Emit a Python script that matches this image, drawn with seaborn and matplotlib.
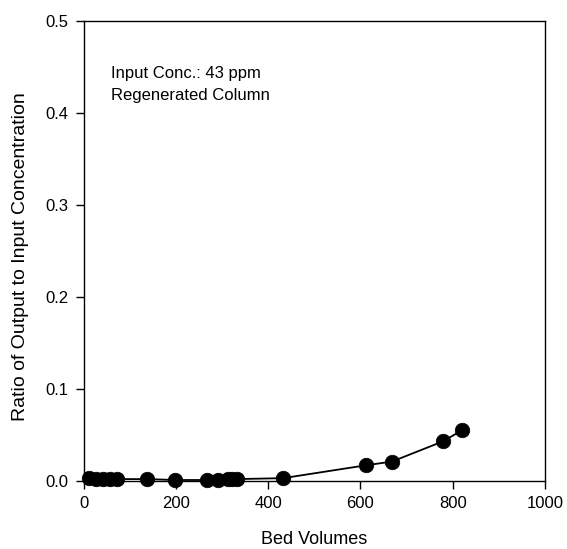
import matplotlib
matplotlib.use("Agg")
import matplotlib.pyplot as plt
import seaborn as sns
import pandas as pd

# Breakthrough data for the regenerated column
bed_volumes = [12, 27, 42, 57, 72, 137, 197, 268, 290, 312, 322, 332, 432, 612, 668, 779, 820]
ratio = [0.003, 0.002, 0.002, 0.002, 0.002, 0.002, 0.001, 0.001, 0.001, 0.002, 0.002, 0.002, 0.003,
         0.017, 0.021, 0.043, 0.055]

x_ticks = [0, 200, 400, 600, 800, 1000]
y_ticks = [0.0, 0.1, 0.2, 0.3, 0.4, 0.5]

df = pd.DataFrame({"Bed Volumes": bed_volumes, "Ratio": ratio})

sns.set_theme(style="ticks")
plt.rcParams["font.family"] = ["Liberation Sans", "DejaVu Sans"]
plt.rcParams["text.color"] = "black"
plt.rcParams["axes.labelcolor"] = "black"

fig = plt.figure(figsize=(5.67, 5.49), dpi=100)
ax = fig.add_axes([0.148, 0.124, 0.813, 0.838])

sns.lineplot(data=df, x="Bed Volumes", y="Ratio", ax=ax, color="black", linewidth=1.3,
             sort=True, estimator=None)
sns.scatterplot(data=df, x="Bed Volumes", y="Ratio", ax=ax, color="black", s=110,
                edgecolor="black", linewidth=0.5, zorder=3, clip_on=False)

ax.set_xlim(0, 1000)
ax.set_ylim(0, 0.5)
ax.set_xticks(x_ticks)
ax.set_yticks(y_ticks)
ax.set_xticklabels([str(t) for t in x_ticks])
ax.set_yticklabels([f"{t:.1f}" for t in y_ticks])
ax.tick_params(direction="out", length=6, width=1, colors="black", labelsize=12, pad=5)

for side in ["left", "right", "top", "bottom"]:
    ax.spines[side].set_visible(True)
    ax.spines[side].set_color("black")
    ax.spines[side].set_linewidth(1.0)

ax.set_xlabel("Bed Volumes", fontsize=13, labelpad=14, color="black")
ax.set_ylabel("Ratio of Output to Input Concentration", fontsize=14, color="black")
ax.yaxis.set_label_coords(-0.12, 0.487)

ax.text(58, 0.443, "Input Conc.: 43 ppm", fontsize=12, va="center", ha="left", color="black")
ax.text(58, 0.419, "Regenerated Column", fontsize=12, va="center", ha="left", color="black")

fig.savefig("out.png", dpi=100)
